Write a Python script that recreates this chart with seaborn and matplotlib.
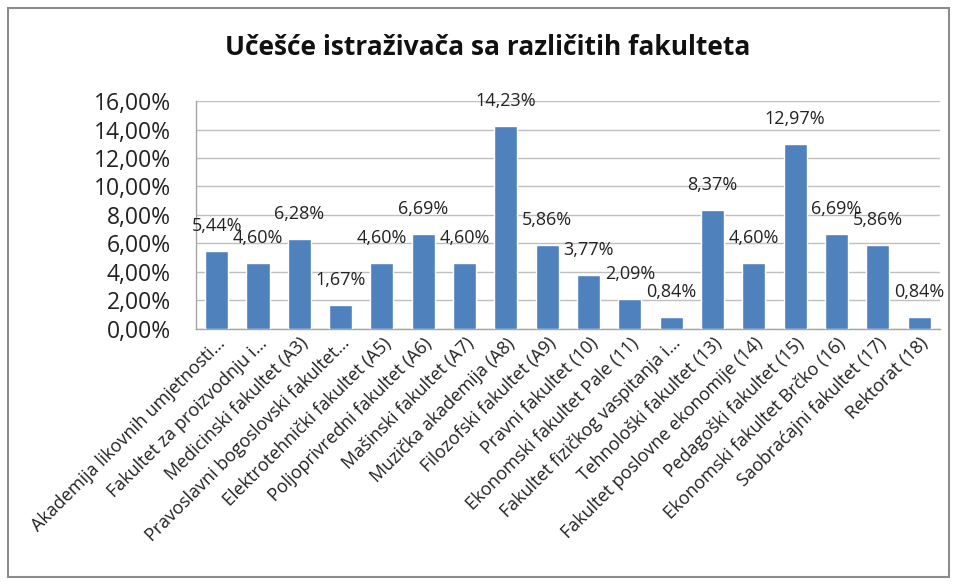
import matplotlib
matplotlib.use("Agg")
import matplotlib.pyplot as plt
import matplotlib.ticker as mticker
from matplotlib.patches import Rectangle
import pandas as pd
import seaborn as sns

# Podaci sa grafikona (udio istraživača po fakultetu, u %)
fakulteti = [
    "Akademija likovnih umjetnosti…",
    "Fakultet za proizvodnju i…",
    "Medicinski fakultet (A3)",
    "Pravoslavni bogoslovski fakultet…",
    "Elektrotehnički fakultet (A5)",
    "Poljoprivredni fakultet (A6)",
    "Mašinski fakultet (A7)",
    "Muzička akademija (A8)",
    "Filozofski fakultet (A9)",
    "Pravni fakultet (10)",
    "Ekonomski fakultet Pale (11)",
    "Fakultet fizičkog vaspitanja i…",
    "Tehnološki fakultet (13)",
    "Fakultet poslovne ekonomije (14)",
    "Pedagoški fakultet (15)",
    "Ekonomski fakultet Brčko (16)",
    "Saobraćajni fakultet (17)",
    "Rektorat (18)",
]
ucesce = [5.44, 4.60, 6.28, 1.67, 4.60, 6.69, 4.60, 14.23, 5.86,
          3.77, 2.09, 0.84, 8.37, 4.60, 12.97, 6.69, 5.86, 0.84]

df = pd.DataFrame({"Fakultet": fakulteti, "Ucesce": ucesce})

sns.set_style("white")
plt.rcParams["font.family"] = ["Open Sans", "DejaVu Sans"]

fig = plt.figure(figsize=(9.56, 5.84), dpi=100)
ax = fig.add_axes([0.205, 0.437, 0.778, 0.39])

sns.barplot(data=df, x="Fakultet", y="Ucesce", color="#4F81BD",
            saturation=1, width=0.56, ax=ax, zorder=3)

ax.set_ylim(0, 16)
ax.set_xlim(-0.5, len(fakulteti) - 0.5)
ax.yaxis.set_major_locator(mticker.MultipleLocator(2))
ax.yaxis.set_major_formatter(
    mticker.FuncFormatter(lambda v, p: f"{v:.2f}%".replace(".", ",")))
ax.grid(axis="y", color="#BFBFBF", linewidth=1, zorder=0)
ax.tick_params(axis="y", labelsize=16.5, length=0, pad=18, colors="#222222")
ax.tick_params(axis="x", labelsize=13, length=0, pad=4, colors="#222222")
plt.setp(ax.get_xticklabels(), rotation=45, ha="right", rotation_mode="anchor")

for s in ["top", "right"]:
    ax.spines[s].set_visible(False)
for s in ["left", "bottom"]:
    ax.spines[s].set_color("#A6A6A6")
    ax.spines[s].set_linewidth(1)

ax.set_xlabel("")
ax.set_ylabel("")

# Oznake vrijednosti iznad stubova
for i, v in enumerate(ucesce):
    ax.annotate(f"{v:.2f}%".replace(".", ","), (i, v), xytext=(0, 18),
                textcoords="offset points", ha="center", va="center",
                fontsize=13, color="#222222", zorder=4)

fig.text(0.51, 0.918, "Učešće istraživača sa različitih fakulteta",
         ha="center", va="center", fontsize=19, fontweight="bold",
         color="#111111")

# Okvir grafikona
fig.patches.append(Rectangle((0.008, 0.012), 0.985, 0.975,
                             transform=fig.transFigure, fill=False,
                             edgecolor="#8C8C8C", linewidth=1.5))

fig.savefig("out.png", dpi=100)
